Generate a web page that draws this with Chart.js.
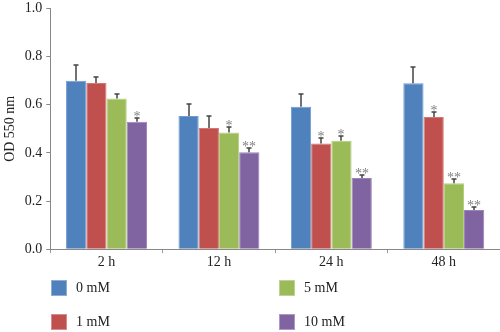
<!DOCTYPE html>
<html>
<head>
<meta charset="utf-8">
<script src="https://cdn.jsdelivr.net/npm/chart.js@4"></script>
<style>
  html, body { margin: 0; padding: 0; background: #fff; overflow: hidden; }
  #wrap { position: relative; width: 500px; height: 332px; overflow: hidden; }
  #c { position: absolute; left: 0; top: -4px; }
  #legend { position: absolute; left: 0; top: 0; width: 500px; height: 332px; pointer-events: none;
            font-family: "Liberation Serif", serif; font-size: 14px; color: #222; }
  .item { position: absolute; display: flex; align-items: center; }
  .box { width: 16px; height: 16px; margin-right: 9px; box-sizing: border-box; border: 1px solid rgba(255,255,255,0.35); }
</style>
</head>
<body>
<div id="wrap">
  <canvas id="c" width="500" height="336"></canvas>
  <div id="legend"></div>
</div>
<script>
const timePoints = ['2 h', '12 h', '24 h', '48 h'];
const doses = ['0 mM', '1 mM', '5 mM', '10 mM'];
const colors = ['#4f81bd', '#c0504d', '#9bbb59', '#8064a2'];
const edges = ['#6f9bd1', '#d67572', '#b2cf7c', '#9a84b8'];

// mean OD per dose, one value per time point
const od0 = [0.700, 0.553, 0.592, 0.689];
const od1 = [0.690, 0.503, 0.439, 0.549];
const od5 = [0.626, 0.485, 0.450, 0.274];
const od10 = [0.529, 0.403, 0.296, 0.163];

// standard deviation (upper whisker only)
const sd0 = [0.063, 0.050, 0.053, 0.066];
const sd1 = [0.025, 0.050, 0.023, 0.022];
const sd5 = [0.020, 0.023, 0.020, 0.016];
const sd10 = [0.014, 0.017, 0.012, 0.011];

// significance marks
const sig0 = ['', '', '', ''];
const sig1 = ['', '', '*', '*'];
const sig5 = ['', '*', '*', '**'];
const sig10 = ['*', '**', '**', '**'];

const means = [od0, od1, od5, od10];
const sds = [sd0, sd1, sd5, sd10];
const sigs = [sig0, sig1, sig5, sig10];

const errorBars = {
  id: 'errorBars',
  afterDatasetsDraw(chart) {
    const ctx = chart.ctx;
    const y = chart.scales.y;
    ctx.save();
    chart.data.datasets.forEach((ds, i) => {
      const meta = chart.getDatasetMeta(i);
      meta.data.forEach((bar, j) => {
        const top = Math.round(y.getPixelForValue(ds.data[j] + sds[i][j]));
        const x = Math.round(bar.x);
        ctx.strokeStyle = '#444';
        ctx.lineWidth = 1.5;
        ctx.beginPath();
        ctx.moveTo(x, bar.y);
        ctx.lineTo(x, top);
        ctx.moveTo(x - 2.5, top);
        ctx.lineTo(x + 2.5, top);
        ctx.stroke();
        const s = sigs[i][j];
        if (s) {
          ctx.fillStyle = '#808080';
          ctx.font = '14px "Liberation Serif"';
          ctx.textAlign = 'center';
          ctx.textBaseline = 'alphabetic';
          ctx.fillText(s, x, top + 3);
        }
      });
    });
    ctx.restore();
  }
};

new Chart(document.getElementById('c'), {
  type: 'bar',
  data: {
    labels: timePoints,
    datasets: doses.map((d, i) => ({
      label: d,
      data: means[i],
      backgroundColor: colors[i],
      borderColor: edges[i],
      borderWidth: 1,
      barPercentage: 1,
      categoryPercentage: 0.72
    }))
  },
  options: {
    responsive: false,
    animation: false,
    layout: { padding: { top: 0, right: 0, bottom: 60, left: 0 } },
    plugins: { legend: { display: false }, tooltip: { enabled: false } },
    scales: {
      x: {
        grid: { drawOnChartArea: false, drawTicks: true, tickLength: 4, color: '#999' },
        border: { color: '#888' },
        ticks: { color: '#222', font: { family: 'Liberation Serif', size: 14 }, padding: 1 }
      },
      y: {
        min: 0, max: 1,
        grid: { drawOnChartArea: false, drawTicks: true, tickLength: 4, color: '#888' },
        border: { color: '#888' },
        ticks: {
          stepSize: 0.2, color: '#222', padding: 4,
          font: { family: 'Liberation Serif', size: 14 },
          callback: v => v.toFixed(1)
        },
        title: { display: true, text: 'OD 550 nm', color: '#222', padding: 2,
                 font: { family: 'Liberation Serif', size: 14 } }
      }
    }
  },
  plugins: [errorBars]
});

// legend laid out in two columns: 0/1 mM left, 5/10 mM right
const legendPos = [[51, 280], [51, 314], [279, 280], [279, 314]];
const legend = document.getElementById('legend');
doses.forEach((d, i) => {
  const el = document.createElement('div');
  el.className = 'item';
  el.style.left = legendPos[i][0] + 'px';
  el.style.top = legendPos[i][1] + 'px';
  el.innerHTML = '<div class="box" style="background:' + colors[i] + '"></div><span>' + d + '</span>';
  legend.appendChild(el);
});
</script>
</body>
</html>
